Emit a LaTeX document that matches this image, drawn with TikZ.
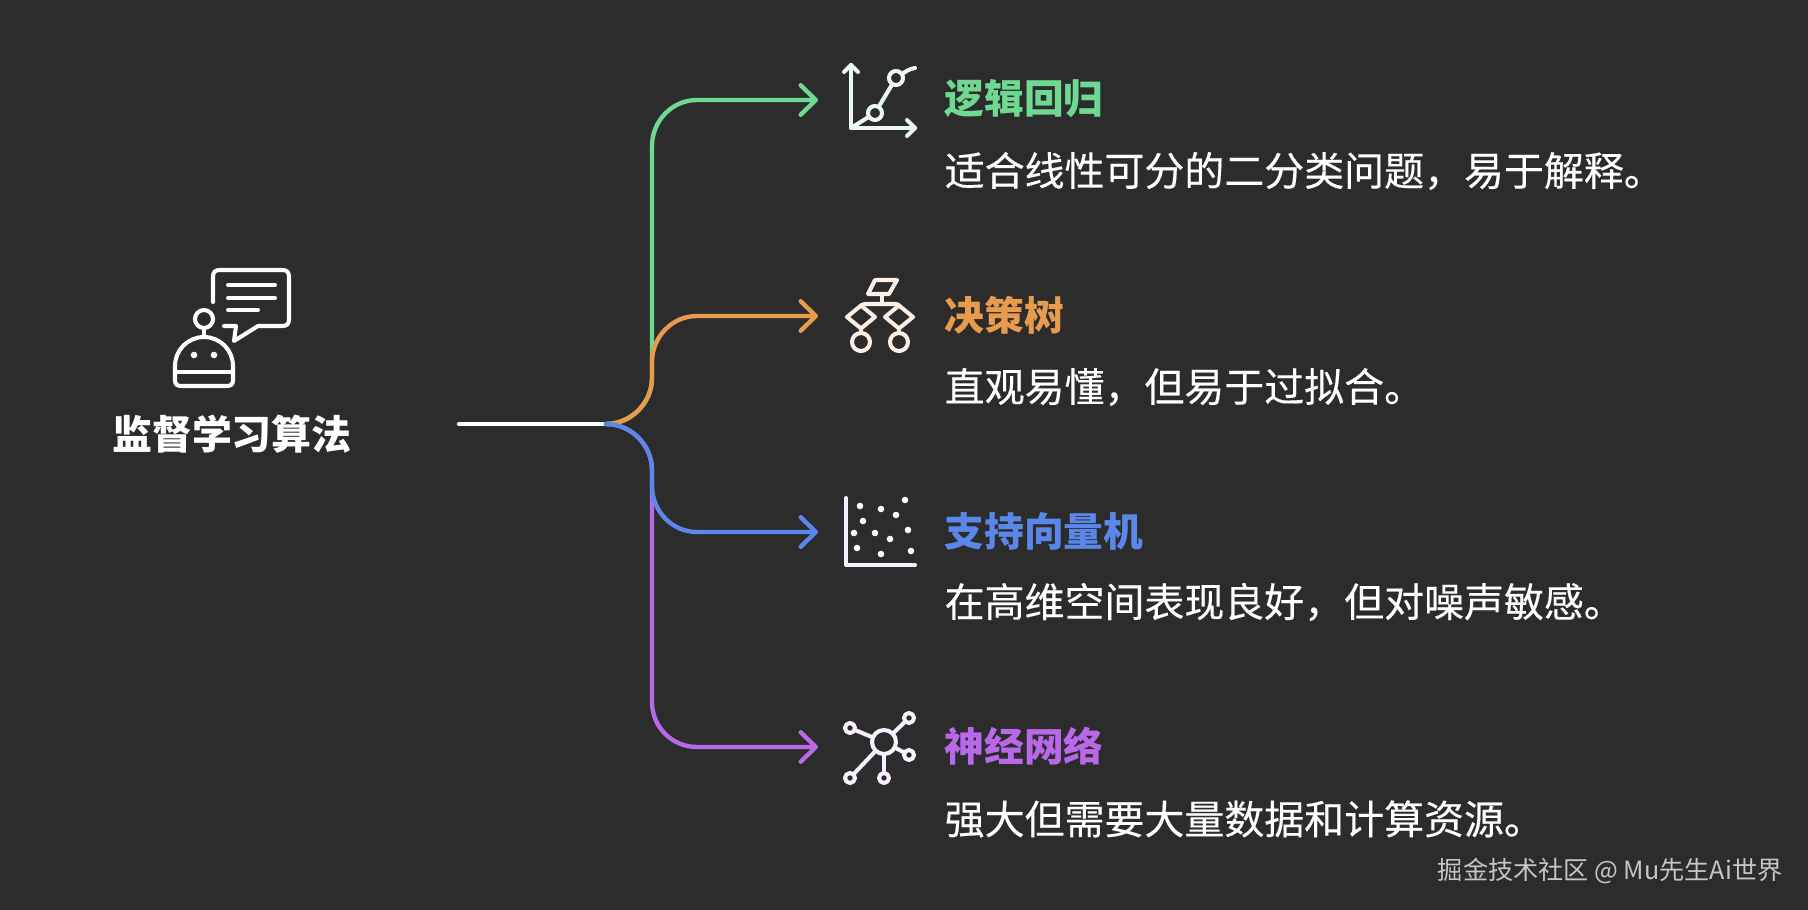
\documentclass[tikz,border=0pt]{standalone}
\usepackage{fontspec}
\usetikzlibrary{arrows.meta}
\newfontfamily\cjk{Noto Sans CJK SC}
\newfontfamily\cjkbody[FakeBold=0.3]{Noto Sans CJK SC}
\definecolor{bgdark}{HTML}{2C2C2C}
\definecolor{lrgreen}{HTML}{6FD893}
\definecolor{dtorange}{HTML}{E89B4C}
\definecolor{svmblue}{HTML}{5B87EA}
\definecolor{nnpurple}{HTML}{B868E8}
\definecolor{markgray}{HTML}{C6C6C6}
\tikzset{
  branch/.style={line width=1.25pt,-{Straight Barb[length=4.3pt,width=8.4pt,round]},line cap=round},
  trunk/.style={line width=1.25pt,line cap=round,white},
  icon/.style={line width=1.15pt,line cap=round,line join=round},
  ring/.style={circle,draw,line width=1.15pt,inner sep=0pt,minimum size=#1},
  titletext/.style={anchor=west,inner sep=0pt,font=\cjk\fontsize{11.3}{13}\selectfont\bfseries},
  desctext/.style={anchor=west,inner sep=0pt,white,font=\cjkbody\fontsize{11.36}{13}\selectfont},
}
\begin{document}
\begin{tikzpicture}[x=0.01cm,y=-0.01cm]
\fill[bgdark] (0,0) rectangle (1808,910);
\useasboundingbox (0,0) rectangle (1808,910);
% connectors
\coordinate (start) at (459,424);
\coordinate (hub) at (606,424);
\coordinate (tipa) at (818,100);
\coordinate (tipb) at (818,316);
\coordinate (tipc) at (818,532);
\coordinate (tipd) at (818,747);
\draw[trunk] (start) -- (hub);
\draw[branch,lrgreen] (hub) .. controls (631,424) and (652,403) .. (652,378) -- (652,146) .. controls (652,121) and (672,100) .. (697,100) -- (tipa);
\draw[branch,nnpurple] (hub) .. controls (631,424) and (652,445) .. (652,470) -- (652,702) .. controls (652,727) and (672,747) .. (697,747) -- (tipd);
\draw[branch,dtorange] (hub) .. controls (631,424) and (652,403) .. (652,378) -- (652,362) .. controls (652,337) and (672,316) .. (697,316) -- (tipb);
\draw[branch,svmblue] (hub) .. controls (631,424) and (652,445) .. (652,470) -- (652,486) .. controls (652,511) and (672,532) .. (697,532) -- (tipc);
% root icon
\draw[icon,white] (213,302) -- (213,277) .. controls (213,272) and (215,270) .. (220,270) -- (282,270) .. controls (287,270) and (289,272) .. (289,277) -- (289,319) .. controls (289,324) and (287,326) .. (282,326) -- (258,326) -- (234,341) -- (236,326) -- (224,326);
\draw[icon,white] (228,285) -- (275,285);
\draw[icon,white] (228,298) -- (275,298);
\draw[icon,white] (228,310) -- (258,310);
\node[ring=0.18cm,white] (antenna) at (204,319) {};
\draw[icon,white] (antenna) -- (204,337);
\draw[icon,white] (175,366) arc[start angle=180,end angle=0,x radius=29,y radius=-29] -- (233,380) .. controls (233,384) and (231,386) .. (227,386) -- (181,386) .. controls (177,386) and (175,384) .. (175,380) -- cycle;
\draw[icon,white] (175,372) -- (233,372);
\fill[white] (194,355) circle (3.3);
\fill[white] (214,355) circle (3.3);
\node[anchor=center,inner sep=0pt,white,font=\cjk\fontsize{11.36}{13}\selectfont\bfseries] (root) at (232,434) {监督学习算法};
% icon a
\begin{scope}[icon,draw=lrgreen!15!white]
\node[ring=0.14cm,draw=lrgreen!15!white] (pta) at (875,113) {};
\node[ring=0.14cm,draw=lrgreen!15!white] (ptb) at (896,78) {};
\coordinate (orig) at (851,128);
\draw (851,65) -- (orig) -- (915,128);
\draw (844,72) -- (851,65) -- (858,72);
\draw (907,120) -- (915,128) -- (907,136);
\draw (orig) -- (pta);
\draw (pta) -- (ptb);
\draw (ptb) .. controls (905,72) and (909,69) .. (915,68);
\end{scope}
% icon b
\begin{scope}[icon,draw=dtorange!15!white]
\draw (875,280) -- (897,280) -- (889,294) -- (868,294) -- cycle;
\draw (882,294) -- (882,304);
\draw (861,317) ++(0,-11.5) -- ++(14,11.5) -- ++(-14,11.5) -- ++(-14,-11.5) -- cycle;
\draw (899,317) ++(0,-11.5) -- ++(14,11.5) -- ++(-14,11.5) -- ++(-14,-11.5) -- cycle;
\draw (861,305.5) .. controls (861,306) and (862,304) .. (866,304) -- (895,304) .. controls (898,304) and (899,305) .. (899,305.5);
\node[ring=0.18cm,draw=dtorange!15!white] (leafa) at (861,342) {};
\node[ring=0.18cm,draw=dtorange!15!white] (leafb) at (899,342) {};
\draw (861,328.5) -- (leafa);
\draw (899,328.5) -- (leafb);
\end{scope}
% icon c
\draw[icon,svmblue!10!white] (846,498) -- (846,565) -- (915,565);
\foreach \dx/\dy in {860/506,881/509,905/500,896/515,863/521,854/533,875/533,908/530,890/539,857/548,881/554,911/551}
  \fill[white] (\dx,\dy) circle (3.3);
% icon d
\begin{scope}[icon,draw=nnpurple!10!white]
\node[ring=0.24cm,draw=nnpurple!10!white] (core) at (884,742) {};
\foreach \sname/\sx/\sy in {sa/850/728,sb/909/718,sc/909/755,sd/884/778,se/850/778} {
  \node[ring=0.10cm,draw=nnpurple!10!white] (\sname) at (\sx,\sy) {};
  \draw (core) -- (\sname);
}
\end{scope}
% labels
\node[titletext,lrgreen] (ta) at (944,99) {逻辑回归};
\node[desctext] (da) at (944,171) {适合线性可分的二分类问题，易于解释。};
\node[titletext,dtorange] (tb) at (944,315) {决策树};
\node[desctext] (db) at (944,387) {直观易懂，但易于过拟合。};
\node[titletext,svmblue] (tc) at (944,531) {支持向量机};
\node[desctext] (dc) at (944,602) {在高维空间表现良好，但对噪声敏感。};
\node[titletext,nnpurple] (td) at (944,746) {神经网络};
\node[desctext] (dd) at (944,819) {强大但需要大量数据和计算资源。};
\node[anchor=east,inner sep=0pt,markgray,font=\cjk\fontsize{7.15}{9}\selectfont] (mark) at (1783,871) {掘金技术社区 @ Mu先生Ai世界};
\end{tikzpicture}
\end{document}
